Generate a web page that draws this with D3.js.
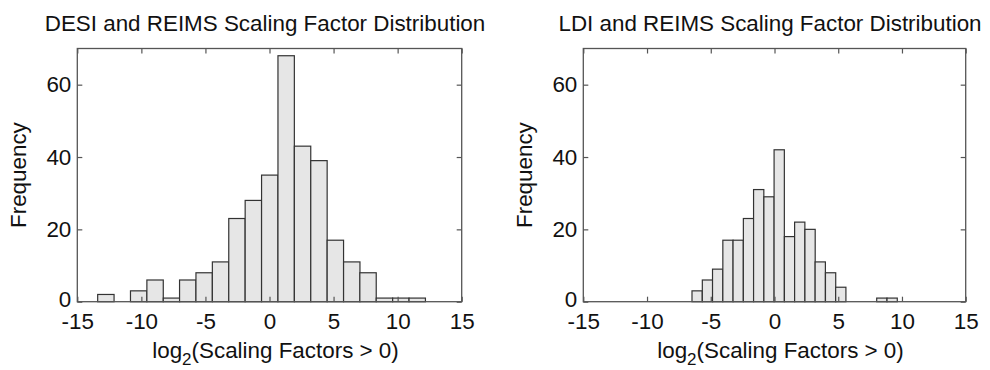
<!DOCTYPE html>
<html>
<head>
<meta charset="utf-8">
<script src="https://cdn.jsdelivr.net/npm/d3@7"></script>
<style>
  html, body { margin: 0; padding: 0; background: #fff; }
  text { font-family: "Liberation Sans", Arial, sans-serif; fill: #111; }
</style>
</head>
<body>
<svg id="chart" width="990" height="370"></svg>
<script>
// bin centres and counts (20 bins each, MATLAB hist style)
const desiCenters = [-12.77, -11.49, -10.21, -8.93, -7.65, -6.38, -5.10, -3.82, -2.54, -1.26,
                     0.02, 1.30, 2.58, 3.86, 5.14, 6.42, 7.69, 8.97, 10.25, 11.53]
const desiCounts  = [2, 0, 3, 6, 1, 6, 8, 11, 23, 28, 35, 68, 43, 39, 17, 11, 8, 1, 1, 1]
const desiBinWidth = 1.279

const ldiCenters = [-6.07, -5.26, -4.46, -3.65, -2.85, -2.04, -1.24, -0.43, 0.37, 1.18,
                    1.98, 2.79, 3.59, 4.40, 5.20, 6.01, 6.81, 7.62, 8.42, 9.23]
const ldiCounts  = [3, 6, 9, 17, 17, 23, 31, 29, 42, 18, 22, 20, 11, 8, 4, 0, 0, 0, 1, 1]
const ldiBinWidth = 0.805

const xDomain = [-15, 15]
const yDomain = [0, 70]
const xTicks = [-15, -10, -5, 0, 5, 10, 15]
const yTicks = [0, 20, 40, 60]
const titles = ["DESI and REIMS Scaling Factor Distribution", "LDI and REIMS Scaling Factor Distribution"]
const yLabel = "Frequency"

const panels = [
  { title: titles[0], centers: desiCenters, counts: desiCounts, bw: desiBinWidth, left: 77.3, right: 461.7 },
  { title: titles[1], centers: ldiCenters, counts: ldiCounts, bw: ldiBinWidth, left: 583.3, right: 965.7 }
]

const svg = d3.select("#chart")
const plotTop = 48.5, plotBottom = 301.7
const fontSize = 22.4
const plainFmt = (d) => String(d)   // hyphen minus like the original, not U+2212

panels.forEach((p) => {
  const x = d3.scaleLinear().domain(xDomain).range([p.left, p.right])
  const y = d3.scaleLinear().domain(yDomain).range([plotBottom, plotTop])
  const g = svg.append("g")
  const cx = (p.left + p.right) / 2

  // bars
  const bins = p.centers.map((c, i) => ({ x0: c - p.bw / 2, x1: c + p.bw / 2, n: p.counts[i] }))
  g.selectAll("rect.bar")
    .data(bins.filter((d) => d.n > 0))
    .enter()
    .append("rect")
    .attr("class", "bar")
    .attr("x", (d) => x(d.x0))
    .attr("width", (d) => x(d.x1) - x(d.x0))
    .attr("y", (d) => y(d.n))
    .attr("height", (d) => y(0) - y(d.n))
    .attr("fill", "#e6e6e6")
    .attr("stroke", "#333")
    .attr("stroke-width", 1.2)

  // axes, ticks pointing inward on all four sides
  const axB = g.append("g").attr("transform", "translate(0," + plotBottom + ")")
    .call(d3.axisBottom(x).tickValues(xTicks).tickFormat(plainFmt).tickSizeInner(-5).tickSizeOuter(0).tickPadding(11))
  const axT = g.append("g").attr("transform", "translate(0," + plotTop + ")")
    .call(d3.axisTop(x).tickValues(xTicks).tickSizeInner(-5).tickSizeOuter(0).tickFormat(""))
  const axL = g.append("g").attr("transform", "translate(" + p.left + ",0)")
    .call(d3.axisLeft(y).tickValues(yTicks).tickFormat(plainFmt).tickSizeInner(-5).tickSizeOuter(0).tickPadding(6))
  const axR = g.append("g").attr("transform", "translate(" + p.right + ",0)")
    .call(d3.axisRight(y).tickValues(yTicks).tickSizeInner(-5).tickSizeOuter(0).tickFormat(""))

  ;[axB, axT, axL, axR].forEach((a) => {
    a.select(".domain").remove()
    a.selectAll("line").attr("stroke", "#555").attr("stroke-width", 1.2)
    a.selectAll("text").attr("font-size", fontSize).attr("font-family", "Liberation Sans, Arial, sans-serif").attr("fill", "#111")
  })
  // the "0" on the y axis sits a touch above the axis corner, as in the original
  axL.selectAll(".tick text").filter((d) => d === 0).attr("dy", "0.2em")

  // box
  g.append("rect")
    .attr("x", p.left).attr("y", plotTop)
    .attr("width", p.right - p.left).attr("height", plotBottom - plotTop)
    .attr("fill", "none").attr("stroke", "#555").attr("stroke-width", 1.3)

  // title
  g.append("text")
    .attr("x", cx - 4.5).attr("y", 31)
    .attr("text-anchor", "middle")
    .attr("font-size", fontSize)
    .text(p.title)

  // y label
  g.append("text")
    .attr("transform", "translate(" + (p.left - 51) + "," + ((plotTop + plotBottom) / 2) + ") rotate(-90)")
    .attr("text-anchor", "middle")
    .attr("font-size", fontSize)
    .text(yLabel)

  // x label with subscript
  const xl = g.append("text")
    .attr("x", cx + 6).attr("y", 358)
    .attr("text-anchor", "middle")
    .attr("font-size", fontSize)
  xl.append("tspan").text("log")
  xl.append("tspan").attr("font-size", 17).attr("dy", 7).text("2")
  xl.append("tspan").attr("dy", -7).text("(Scaling Factors > 0)")
})
</script>
</body>
</html>
